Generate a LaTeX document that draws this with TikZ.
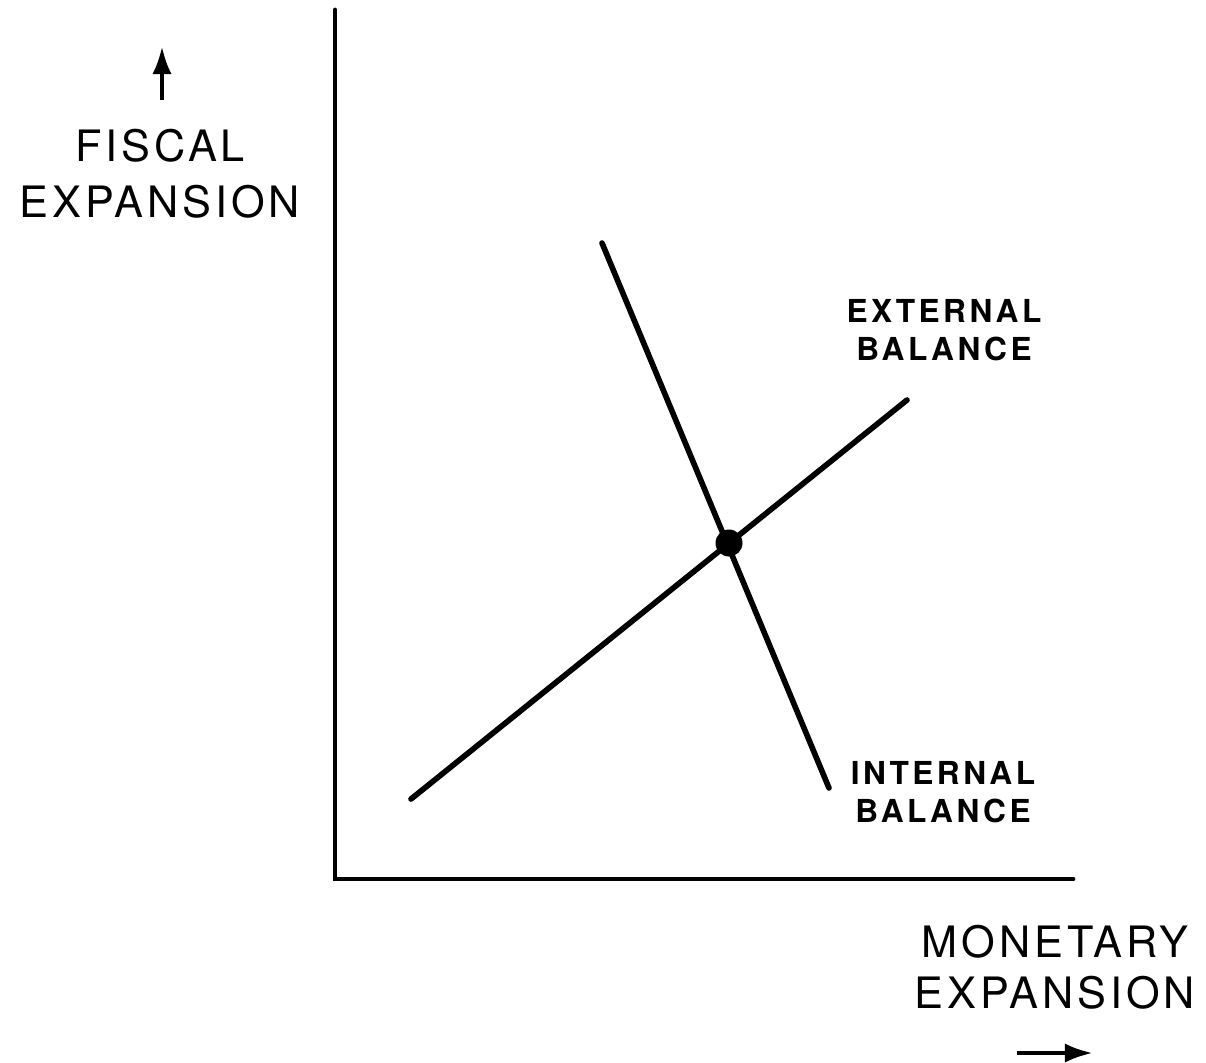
\documentclass[tikz,border=0pt]{standalone}
\usepackage{fontspec}
\setmainfont{TeX Gyre Heros}
\usetikzlibrary{arrows.meta}
\tikzset{
  axis/.style={draw=black, line width=1.4pt, line cap=round},
  schedule/.style={draw=black, line width=1.6pt, line cap=round},
  eqdot/.style={circle, fill=black, inner sep=0pt, minimum size=0.27cm},
  axislabel/.style={align=center, inner sep=0pt},
  curvelabel/.style={font=\bfseries\fontsize{9}{10.8}\selectfont\addfontfeature{LetterSpace=11}, align=center, inner sep=0pt},
  pointer/.style={draw=black, line width=1.3pt, -{Latex[length=8pt,width=5.5pt]}},
}

\begin{document}
\begin{tikzpicture}[x=0.01cm, y=-0.01cm]
\useasboundingbox (0,0) rectangle (1206,1062);
% axes
\coordinate (origin) at (335,879);
\coordinate (ytop) at (335,10);
\coordinate (xend) at (1073,879);
\draw[axis] (ytop) -- (origin) -- (xend);
% schedules
\coordinate (ib-top) at (602,243);
\coordinate (ib-bot) at (829,788);
\coordinate (eb-low) at (411,799);
\coordinate (eb-high) at (907,400);
\draw[schedule] (ib-top) -- (ib-bot);
\draw[schedule] (eb-low) -- (eb-high);
\node[eqdot] (eq) at (729,543) {};
% labels
\node[axislabel, font=\fontsize{12.3}{16}\selectfont\addfontfeature{LetterSpace=9}] (fiscal) at (160,174) {FISCAL\\EXPANSION};
\node[axislabel, font=\fontsize{12.3}{14.5}\selectfont\addfontfeature{LetterSpace=9}] (monetary) at (1055,967) {MONETARY\\EXPANSION};
\node[curvelabel] (external) at (944,330) {EXTERNAL\\BALANCE};
\node[curvelabel] (internal) at (943,792) {INTERNAL\\BALANCE};
% direction arrows
\coordinate (up-tail) at (162,100);
\coordinate (up-tip) at (162,46);
\coordinate (right-tail) at (1017,1053);
\coordinate (right-tip) at (1093,1053);
\draw[pointer] (up-tail) -- (up-tip);
\draw[pointer] (right-tail) -- (right-tip);
\end{tikzpicture}
\end{document}
